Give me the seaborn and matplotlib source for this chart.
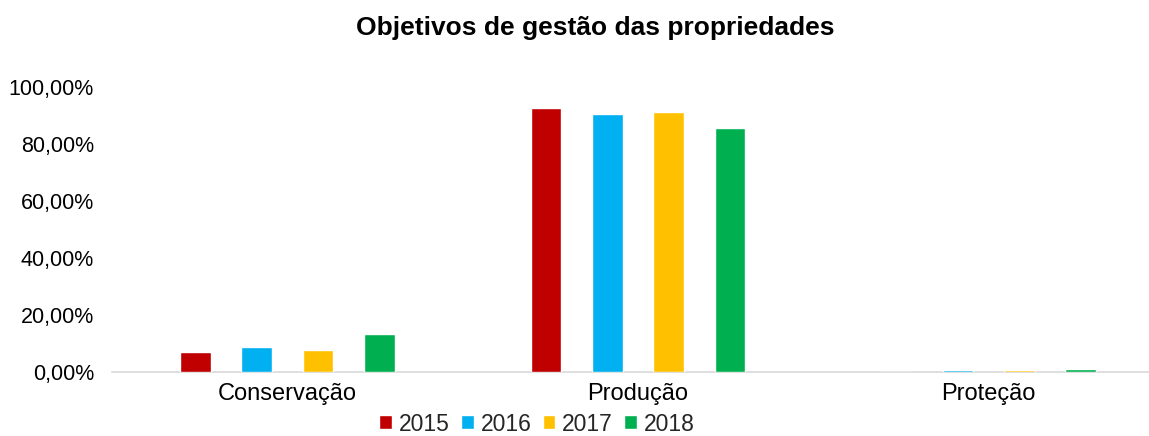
import pandas as pd
import matplotlib.pyplot as plt
import seaborn as sns
from matplotlib.ticker import FuncFormatter
from matplotlib.patches import Patch

# ---------------- data ----------------
categorias = ["Conservação", "Produção", "Proteção"]
anos = ["2015", "2016", "2017", "2018"]

v2015 = [0.070, 0.926, 0.000]
v2016 = [0.089, 0.904, 0.007]
v2017 = [0.078, 0.912, 0.006]
v2018 = [0.133, 0.855, 0.010]

cores = ["#C00000", "#00B0F0", "#FFC000", "#00B050"]

df = pd.DataFrame({
    "categoria": categorias * 4,
    "ano": [a for a in anos for _ in categorias],
    "valor": v2015 + v2016 + v2017 + v2018,
})

# ---------------- plot ----------------
sns.set_theme(style="white")
plt.rcParams["font.family"] = ["Liberation Sans", "DejaVu Sans"]

fig = plt.figure(figsize=(11.49, 4.36), dpi=100)
ax = fig.add_axes([112 / 1149, 64 / 436, 1052 / 1149, 285 / 436])

sns.barplot(
    data=df,
    x="categoria",
    y="valor",
    hue="ano",
    palette=cores,
    saturation=1,
    width=0.7,
    gap=0.5,
    ax=ax,
    legend=False,
    zorder=3,
)

ax.set_ylim(0, 1.0)
ax.set_xlim(-0.5, 2.5)
ax.set_yticks([0, 0.2, 0.4, 0.6, 0.8, 1.0])
ax.yaxis.set_major_formatter(
    FuncFormatter(lambda v, _: f"{v * 100:.2f}%".replace(".", ","))
)
ax.tick_params(axis="y", labelsize=15.5, colors="#000000", length=0, pad=13)
ax.tick_params(axis="x", labelsize=17, colors="#000000", length=0, pad=8)
ax.set_xlabel("")
ax.set_ylabel("")

for s in ["top", "right", "left"]:
    ax.spines[s].set_visible(False)
ax.spines["bottom"].set_color("#d9d9d9")
ax.spines["bottom"].set_linewidth(1.2)
ax.spines["bottom"].set_zorder(1)

fig.text(595 / 1149, 1 - 28 / 436, "Objetivos de gestão das propriedades",
         ha="center", va="center", fontsize=19, fontweight="bold",
         color="#000000")

handles = [Patch(facecolor=c, label=a) for c, a in zip(cores, anos)]
fig.legend(
    handles=handles,
    loc="center",
    bbox_to_anchor=(537 / 1149, 1 - 424 / 436),
    ncol=4,
    frameon=False,
    fontsize=16.5,
    handlelength=0.55,
    handleheight=0.55,
    handletextpad=0.3,
    columnspacing=0.5,
    borderpad=0,
)

fig.savefig("out.png", dpi=100)
